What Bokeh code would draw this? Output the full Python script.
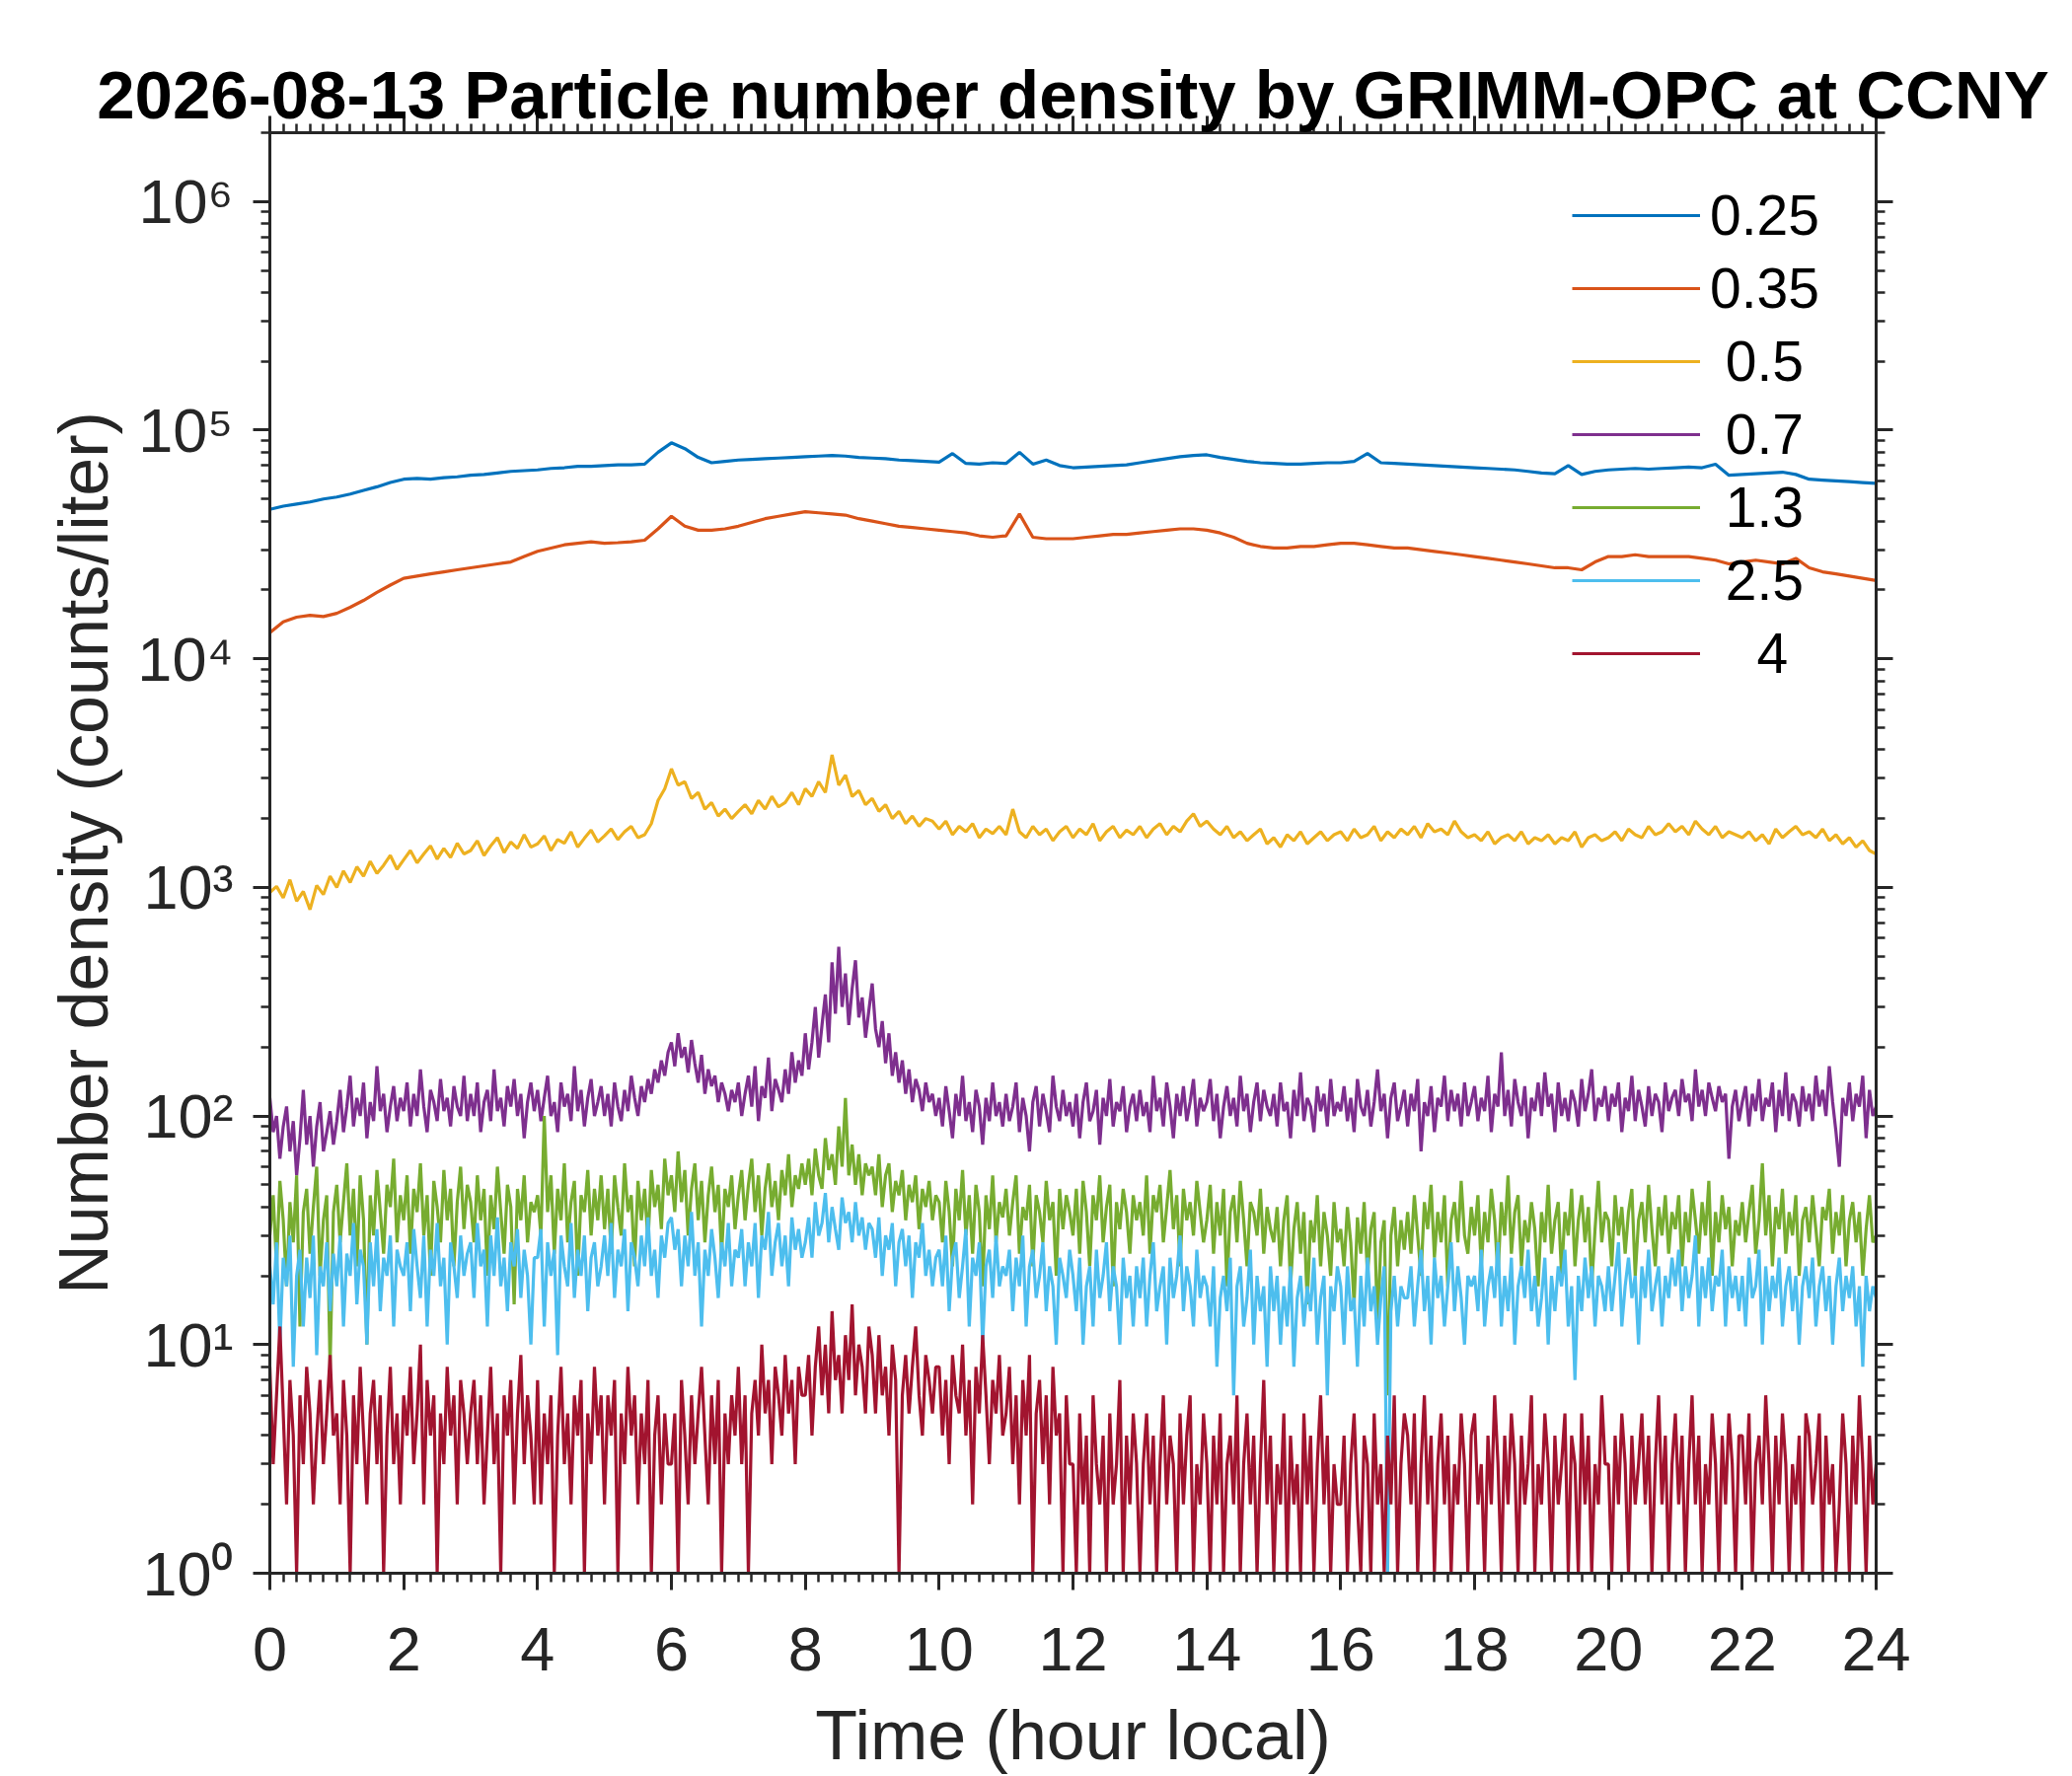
from bokeh.plotting import figure
from bokeh.models import (Range1d, FixedTicker, LinearAxis, LogAxis, Legend, LegendItem,
                          CustomJSTickFormatter)
from bokeh.embed import file_html
from bokeh.resources import INLINE

# ---------------- data ----------------
title_text = "2026-08-13 Particle number density by GRIMM-OPC at CCNY"
x_label = "Time (hour local)"
y_label = "Number density (counts/liter)"

sizes = ["0.25", "0.35", "0.5", "0.7", "1.3", "2.5", "4"]
legend_labels = ["0.25", "0.35", "\u00a00.5", "\u00a00.7", "\u00a01.3", "\u00a02.5", "\u00a0\u00a0\u00a04"]
colors = ["#0072BD", "#D95319", "#EDB120", "#7E2F8E", "#77AC30", "#4DBEEE", "#A2142F"]

x_tick_values = [0, 2, 4, 6, 8, 10, 12, 14, 16, 18, 20, 22, 24]
x_minor_ticks = [i / 5 for i in range(121)]
y_tick_values = [1, 10, 100, 1000, 10000, 100000, 1000000]
y_tick_labels = ["10\u2070", "10\u00b9", "10\u00b2", "10\u00b3", "10\u2074", "10\u2075", "10\u2076"]
y_minor_ticks = [m * 10 ** k for k in range(0, 7) for m in range(2, 10)]

# sampling times (hours)
hours_coarse = [i / 5 for i in range(121)]   # every 12 min
hours_fine = [i / 10 for i in range(241)]    # every 6 min
hours_dense = [i / 20 for i in range(481)]   # every 3 min

d025 = [
    45000, 46500, 47500, 48500, 50000,
    51000, 52500, 54500, 56500, 59000,
    61000, 61500, 61000, 62000, 62500,
    63500, 64000, 65000, 66000, 66500,
    67000, 68000, 68500, 69500, 69500,
    70000, 70500, 70500, 71000, 80000,
    88000, 83000, 76000, 72000, 73000,
    74000, 74500, 75000, 75500, 76000,
    76500, 77000, 77500, 77000, 76000,
    75500, 75000, 74000, 73500, 73000,
    72500, 79000, 71500, 71000, 72000,
    71500, 80000, 71000, 74000, 70000,
    68500, 69000, 69500, 70000, 70500,
    72000, 73500, 75000, 76500, 77500,
    78000, 76000, 74500, 73000, 72000,
    71500, 71000, 71000, 71500, 72000,
    72000, 73000, 79000, 72000, 71500,
    71000, 70500, 70000, 69500, 69000,
    68500, 68000, 67500, 67000, 66000,
    65000, 64500, 70000, 64000, 66000,
    67000, 67500, 68000, 67500, 68000,
    68500, 69000, 68500, 71000, 63500,
    64000, 64500, 65000, 65500, 64000,
    61000, 60500, 60000, 59500, 59000,
    58500]

d035 = [
    13000, 14500, 15200, 15500, 15300,
    15800, 16800, 18000, 19500, 21000,
    22500, 23000, 23500, 24000, 24500,
    25000, 25500, 26000, 26500, 28000,
    29500, 30500, 31500, 32000, 32500,
    32000, 32200, 32500, 33000, 37000,
    42000, 38000, 36500, 36500, 37000,
    38000, 39500, 41000, 42000, 43000,
    44000, 43500, 43000, 42500, 41000,
    40000, 39000, 38000, 37500, 37000,
    36500, 36000, 35500, 34500, 34000,
    34500, 43000, 34000, 33500, 33500,
    33500, 34000, 34500, 35000, 35000,
    35500, 36000, 36500, 37000, 37000,
    36500, 35500, 34000, 32000, 31000,
    30500, 30500, 31000, 31000, 31500,
    32000, 32000, 31500, 31000, 30500,
    30500, 30000, 29500, 29000, 28500,
    28000, 27500, 27000, 26500, 26000,
    25500, 25000, 25000, 24500, 26500,
    28000, 28000, 28500, 28000, 28000,
    28000, 28000, 27500, 27000, 26000,
    26500, 27000, 26500, 26000, 27500,
    25000, 24000, 23500, 23000, 22500,
    22000]

d05 = [
    950, 1010, 900, 1080, 870, 960, 800, 1020, 930, 1120,
    1000, 1180, 1050, 1230, 1120, 1300, 1150, 1250, 1380, 1200,
    1320, 1450, 1280, 1400, 1520, 1330, 1480, 1350, 1560, 1400,
    1450, 1600, 1380, 1520, 1650, 1420, 1580, 1480, 1700, 1500,
    1550, 1680, 1450, 1620, 1560, 1750, 1500, 1640, 1780, 1580,
    1680, 1800, 1620, 1750, 1850, 1650, 1700, 1900, 2400, 2700,
    3300, 2800, 2900, 2450, 2600, 2200, 2350, 2050, 2200, 2000,
    2150, 2300, 2100, 2400, 2200, 2500, 2250, 2350, 2600, 2300,
    2700, 2500, 2900, 2600, 3800, 2800, 3100, 2500, 2650, 2300,
    2450, 2150, 2300, 2000, 2150, 1900, 2050, 1850, 2000, 1950,
    1800, 1950, 1700, 1850, 1750, 1900, 1650, 1800, 1720, 1850,
    1700, 2200, 1750, 1650, 1850, 1700, 1800, 1600, 1750, 1850,
    1650, 1800, 1700, 1900, 1600, 1750, 1850, 1650, 1780, 1700,
    1850, 1650, 1800, 1900, 1700, 1850, 1750, 1950, 2100, 1850,
    1950, 1800, 1700, 1850, 1650, 1750, 1600, 1700, 1800, 1550,
    1650, 1500, 1700, 1600, 1750, 1550, 1650, 1750, 1600, 1700,
    1750, 1600, 1800, 1650, 1700, 1850, 1600, 1750, 1650, 1800,
    1700, 1850, 1650, 1900, 1750, 1800, 1700, 1950, 1750, 1650,
    1700, 1600, 1750, 1550, 1650, 1700, 1600, 1750, 1550, 1650,
    1600, 1700, 1550, 1650, 1600, 1750, 1500, 1650, 1700, 1600,
    1650, 1750, 1600, 1800, 1700, 1650, 1850, 1700, 1750, 1900,
    1750, 1850, 1700, 1950, 1800, 1700, 1850, 1650, 1750, 1700,
    1650, 1750, 1600, 1700, 1550, 1800, 1650, 1750, 1850, 1700,
    1750, 1650, 1800, 1600, 1700, 1550, 1650, 1500, 1600, 1450,
    1400]

d07 = [
    120, 85, 100, 65, 90, 110, 70, 95, 55, 80, 130, 75, 100, 60, 90, 115, 70, 85, 105, 75,
    95, 130, 85, 110, 150, 90, 120, 100, 140, 80, 115, 95, 165, 105, 125, 85, 110, 135, 95, 120,
    105, 140, 90, 125, 100, 160, 110, 85, 130, 115, 95, 145, 105, 120, 90, 135, 110, 100, 150, 95,
    125, 100, 140, 85, 115, 130, 95, 160, 105, 120, 90, 135, 110, 145, 100, 125, 80, 115, 140, 105,
    130, 95, 120, 150, 100, 115, 85, 140, 110, 125, 95, 165, 105, 130, 90, 120, 145, 100, 115, 135,
    100, 125, 90, 140, 110, 95, 130, 105, 150, 120, 100, 135, 115, 145, 125, 160, 140, 175, 150, 190,
    210, 165, 230, 180, 200, 155, 215, 170, 140, 185, 125, 160, 135, 150, 115, 140, 125, 105, 130, 115,
    140, 100, 125, 150, 110, 165, 95, 135, 120, 180, 105, 145, 130, 115, 160, 125, 190, 140, 175, 150,
    230, 160, 210, 300, 180, 250, 340, 210, 470, 280, 550, 300, 420, 250, 360, 480, 270, 330, 220, 290,
    380, 240, 200, 260, 170, 230, 150, 190, 140, 175, 125, 160, 115, 145, 130, 105, 140, 115, 125, 100,
    120, 90, 135, 105, 80, 125, 100, 150, 95, 115, 85, 130, 110, 75, 120, 95, 140, 100, 115, 90,
    125, 95, 110, 140, 85, 120, 100, 70, 115, 135, 90, 125, 105, 85, 150, 110, 95, 130, 100, 115,
    90, 125, 80, 115, 140, 95, 105, 130, 75, 120, 100, 145, 90, 115, 105, 135, 85, 110, 125, 95,
    130, 100, 115, 85, 150, 105, 120, 90, 140, 110, 80, 125, 100, 135, 95, 115, 145, 90, 120, 105,
    115, 145, 95, 125, 80, 110, 135, 100, 120, 90, 150, 105, 125, 85, 115, 140, 95, 130, 110, 100,
    125, 90, 140, 105, 115, 80, 130, 100, 155, 95, 120, 110, 85, 135, 105, 125, 90, 145, 100, 115,
    105, 135, 95, 120, 85, 145, 110, 100, 130, 90, 115, 160, 105, 125, 80, 120, 140, 95, 110, 130,
    90, 125, 105, 145, 70, 115, 100, 135, 85, 120, 110, 150, 95, 130, 105, 125, 90, 140, 100, 115,
    135, 95, 120, 105, 150, 85, 125, 110, 190, 100, 130, 90, 145, 115, 100, 135, 80, 120, 105, 140,
    100, 155, 110, 125, 85, 140, 100, 120, 95, 130, 115, 90, 145, 105, 125, 160, 95, 120, 110, 135,
    95, 125, 110, 140, 85, 120, 105, 150, 95, 130, 110, 90, 135, 100, 125, 115, 85, 140, 105, 120,
    130, 100, 145, 115, 125, 95, 160, 110, 130, 100, 140, 120, 105, 135, 115, 125, 65, 110, 130, 95,
    115, 135, 90, 125, 105, 145, 95, 120, 110, 140, 85, 130, 100, 155, 95, 125, 115, 90, 135, 105,
    125, 95, 150, 110, 130, 100, 165, 115, 85, 60, 120, 100, 140, 95, 125, 110, 150, 80, 130, 100,
    110]

d13 = [
    30, 45, 22, 52, 35, 18, 42, 28, 55, 12, 38, 48, 25, 40, 60, 20, 35, 45, 8, 38,
    50, 28, 42, 62, 30, 48, 22, 55, 35, 10, 45, 30, 58, 38, 25, 50, 40, 65, 28, 45,
    35, 55, 25, 48, 38, 62, 30, 45, 20, 52, 40, 28, 58, 35, 48, 22, 42, 60, 32, 50,
    42, 28, 55, 35, 48, 20, 45, 32, 60, 38, 25, 50, 40, 15, 48, 35, 55, 28, 42, 38,
    45, 30, 100, 38, 55, 25, 48, 35, 62, 28, 42, 52, 20, 45, 38, 58, 30, 48, 35, 55,
    32, 48, 25, 55, 40, 30, 62, 38, 45, 22, 52, 35, 48, 28, 58, 40, 50, 32, 65, 45,
    55, 38, 70, 42, 58, 30, 48, 62, 35, 52, 28, 45, 60, 38, 50, 25, 48, 40, 55, 32,
    45, 58, 35, 50, 65, 38, 55, 30, 48, 62, 40, 52, 35, 58, 45, 68, 40, 55, 48, 62,
    50, 65, 45, 72, 55, 48, 80, 58, 68, 50, 90, 60, 120, 55, 75, 50, 68, 45, 62, 55,
    60, 45, 68, 40, 55, 62, 38, 52, 45, 58, 35, 50, 42, 55, 32, 48, 40, 52, 35, 45,
    42, 28, 52, 38, 22, 48, 35, 58, 30, 45, 25, 50, 38, 18, 45, 32, 55, 28, 42, 36,
    48, 30, 42, 55, 25, 40, 35, 50, 22, 45, 38, 28, 52, 35, 42, 20, 48, 32, 45, 38,
    30, 48, 25, 52, 38, 22, 45, 35, 55, 28, 40, 50, 18, 42, 32, 48, 38, 25, 45, 35,
    42, 30, 55, 25, 45, 38, 50, 28, 40, 58, 32, 45, 22, 48, 35, 42, 30, 52, 38, 28,
    35, 50, 25, 42, 30, 48, 18, 38, 45, 28, 52, 35, 22, 42, 38, 30, 48, 25, 40, 32,
    28, 40, 22, 35, 45, 18, 32, 42, 25, 38, 15, 35, 28, 45, 22, 38, 30, 20, 42, 28,
    32, 22, 40, 28, 15, 36, 25, 42, 20, 32, 38, 12, 28, 35, 6, 30, 40, 22, 35, 26,
    38, 25, 45, 30, 20, 42, 32, 50, 24, 38, 28, 45, 18, 35, 42, 28, 52, 30, 25, 40,
    30, 45, 22, 38, 28, 48, 35, 20, 42, 30, 55, 25, 38, 45, 22, 35, 28, 42, 32, 18,
    38, 28, 50, 25, 35, 42, 20, 38, 30, 48, 22, 35, 45, 28, 40, 18, 32, 52, 28, 38,
    35, 22, 45, 30, 40, 25, 38, 48, 20, 35, 42, 28, 50, 32, 22, 40, 30, 45, 25, 38,
    32, 45, 22, 38, 28, 48, 35, 25, 42, 30, 52, 20, 38, 28, 45, 32, 40, 22, 35, 30,
    42, 28, 38, 50, 25, 35, 62, 30, 45, 22, 40, 32, 48, 25, 38, 30, 45, 20, 35, 40,
    28, 45, 32, 22, 40, 35, 48, 25, 38, 30, 45, 22, 35, 42, 28, 38, 20, 32, 45, 28,
    30]

d25 = [
    22, 15, 28, 10, 24, 18, 30, 8, 20, 26, 12, 24, 16, 30, 9, 22, 18, 28, 14, 25,
    18, 30, 12, 25, 20, 34, 15, 26, 22, 10, 28, 18, 32, 14, 24, 20, 30, 12, 26, 22,
    20, 28, 14, 32, 22, 16, 30, 12, 26, 20, 34, 18, 24, 10, 28, 22, 16, 30, 20, 25,
    28, 16, 34, 22, 26, 12, 30, 20, 36, 18, 24, 14, 28, 22, 32, 16, 26, 20, 10, 24,
    24, 32, 12, 28, 20, 26, 9, 30, 22, 18, 34, 16, 26, 20, 30, 14, 24, 28, 18, 22,
    30, 20, 34, 16, 26, 22, 32, 14, 28, 24, 18, 30, 22, 36, 20, 26, 16, 30, 24, 34,
    36, 26, 32, 18, 30, 22, 38, 20, 28, 12, 26, 20, 32, 24, 16, 28, 22, 34, 18, 26,
    24, 32, 18, 28, 22, 34, 16, 30, 26, 38, 20, 28, 34, 22, 30, 18, 36, 26, 32, 24,
    28, 36, 24, 42, 30, 34, 46, 28, 40, 32, 26, 44, 34, 38, 28, 42, 30, 36, 26, 34,
    32, 24, 36, 20, 30, 26, 34, 18, 28, 32, 22, 30, 16, 28, 24, 34, 20, 26, 18, 24,
    26, 18, 30, 14, 24, 28, 16, 22, 32, 12, 24, 20, 28, 10, 22, 26, 16, 30, 18, 22,
    20, 26, 14, 24, 18, 30, 12, 22, 26, 16, 20, 28, 14, 22, 18, 10, 24, 20, 16, 26,
    20, 14, 24, 10, 18, 22, 12, 26, 16, 20, 28, 14, 22, 18, 10, 24, 16, 20, 12, 22,
    16, 24, 12, 20, 28, 14, 18, 22, 10, 24, 16, 20, 30, 14, 22, 18, 12, 26, 16, 20,
    18, 12, 22, 8, 16, 20, 14, 24, 6, 18, 22, 12, 16, 26, 10, 20, 14, 18, 8, 22,
    14, 20, 10, 18, 12, 22, 8, 16, 20, 12, 18, 14, 24, 10, 16, 20, 6, 18, 14, 22,
    18, 10, 22, 14, 16, 8, 20, 12, 24, 14, 18, 10, 16, 22, 1, 14, 20, 12, 18, 16,
    16, 22, 12, 18, 26, 14, 20, 10, 24, 16, 20, 12, 18, 28, 14, 22, 16, 10, 20, 18,
    20, 14, 26, 12, 18, 22, 16, 28, 12, 20, 14, 24, 10, 18, 22, 16, 26, 14, 20, 12,
    16, 24, 10, 20, 14, 22, 18, 26, 12, 18, 7, 20, 14, 24, 16, 22, 12, 20, 18, 14,
    22, 14, 20, 28, 12, 18, 24, 16, 20, 10, 22, 16, 26, 14, 18, 22, 12, 20, 16, 24,
    18, 26, 14, 22, 16, 20, 30, 12, 22, 16, 24, 14, 20, 18, 26, 12, 22, 16, 20, 14,
    20, 12, 24, 16, 18, 26, 10, 22, 14, 20, 16, 24, 12, 18, 22, 14, 20, 10, 18, 22,
    16, 24, 12, 18, 22, 14, 20, 10, 18, 24, 14, 20, 16, 22, 12, 18, 8, 20, 14, 18,
    16]

d4 = [
    8, 3, 6, 12, 5, 2, 7, 4, 1, 6, 3, 8, 5, 2, 4, 7, 3, 5, 9, 4,
    5, 2, 7, 4, 1, 6, 3, 8, 4, 2, 5, 7, 3, 6, 1, 4, 8, 3, 5, 2,
    6, 4, 8, 3, 5, 10, 2, 7, 4, 6, 1, 5, 3, 8, 4, 6, 2, 7, 5, 3,
    5, 7, 3, 6, 2, 4, 8, 3, 5, 1, 6, 4, 7, 2, 5, 9, 3, 6, 4, 2,
    7, 2, 5, 3, 6, 1, 4, 8, 3, 5, 2, 6, 4, 7, 1, 5, 3, 8, 4, 6,
    2, 6, 4, 7, 1, 5, 3, 8, 4, 6, 2, 5, 3, 7, 1, 4, 6, 2, 5, 3,
    3, 5, 1, 7, 4, 2, 6, 3, 5, 8, 4, 2, 6, 3, 7, 1, 5, 3, 6, 4,
    8, 3, 6, 1, 5, 7, 4, 10, 5, 7, 3, 8, 6, 4, 9, 5, 7, 3, 8, 6,
    6, 9, 4, 8, 12, 6, 10, 5, 14, 7, 9, 5, 11, 7, 15, 6, 10, 8, 5, 12,
    9, 5, 11, 6, 8, 4, 10, 7, 1, 6, 9, 5, 8, 12, 6, 4, 9, 7, 5, 8,
    8, 4, 7, 3, 9, 6, 5, 10, 4, 7, 2, 8, 5, 11, 6, 3, 7, 5, 9, 4,
    5, 8, 3, 6, 2, 7, 4, 9, 1, 5, 7, 3, 6, 2, 8, 4, 5, 1, 6, 3,
    3, 1, 5, 2, 4, 1, 6, 3, 2, 4, 1, 5, 2, 3, 7, 1, 4, 2, 5, 3,
    1, 3, 5, 2, 4, 1, 3, 6, 2, 4, 3, 1, 5, 2, 4, 6, 1, 3, 2, 5,
    3, 1, 4, 2, 5, 1, 3, 4, 2, 6, 1, 3, 5, 2, 4, 1, 3, 7, 2, 4,
    1, 3, 2, 5, 1, 4, 2, 3, 1, 5, 2, 4, 1, 3, 6, 2, 4, 1, 3, 2,
    2, 4, 1, 3, 5, 2, 1, 4, 3, 1, 5, 2, 3, 1, 4, 2, 6, 1, 3, 5,
    4, 2, 5, 1, 3, 6, 2, 4, 1, 3, 5, 2, 4, 1, 3, 2, 5, 3, 1, 4,
    5, 2, 3, 1, 4, 2, 6, 3, 1, 4, 2, 5, 3, 1, 4, 2, 3, 6, 1, 3,
    2, 5, 3, 1, 4, 2, 3, 5, 1, 4, 3, 1, 5, 2, 4, 1, 3, 2, 6, 3,
    3, 1, 4, 2, 5, 3, 1, 4, 2, 3, 5, 2, 4, 1, 3, 6, 2, 4, 1, 3,
    5, 2, 4, 1, 3, 6, 2, 4, 1, 3, 2, 5, 3, 1, 4, 2, 5, 3, 1, 4,
    4, 2, 5, 1, 3, 4, 2, 6, 3, 1, 4, 2, 5, 3, 1, 3, 2, 4, 1, 5,
    4, 2, 3, 5, 1, 4, 2, 3, 1, 2, 5, 3, 1, 4, 2, 6, 3, 1, 4, 2,
    3]

series = [
    (hours_coarse, d025), (hours_coarse, d035), (hours_fine, d05), (hours_dense, d07),
    (hours_dense, d13), (hours_dense, d25), (hours_dense, d4),
]

# ---------------- figure ----------------
FONT = "Liberation Sans"
AX = "#262626"

p = figure(width=2100, height=1800, title=None,
           x_range=Range1d(0, 24), y_range=Range1d(1, 2e6),
           y_axis_type="log", output_backend="svg", toolbar_location=None,
           min_border_left=273, min_border_right=199,
           min_border_top=134, min_border_bottom=204)
p.background_fill_color = "white"
p.border_fill_color = "white"
p.outline_line_color = None
p.xgrid.visible = False
p.ygrid.visible = False

x_ticker = FixedTicker(ticks=x_tick_values, minor_ticks=x_minor_ticks)
y_ticker = FixedTicker(ticks=y_tick_values, minor_ticks=y_minor_ticks)
y_fmt = CustomJSTickFormatter(args=dict(lab_list=y_tick_labels, val_list=y_tick_values), code="""
    let best = 0;
    for (let i = 0; i < val_list.length; i++) {
        if (Math.abs(Math.log10(tick) - Math.log10(val_list[i])) <
            Math.abs(Math.log10(tick) - Math.log10(val_list[best]))) best = i;
    }
    return lab_list[best];
""")


def style(ax):
    ax.axis_line_color = AX
    ax.axis_line_width = 3
    ax.major_tick_line_color = AX
    ax.major_tick_line_width = 3
    ax.minor_tick_line_color = AX
    ax.minor_tick_line_width = 2.5
    ax.major_tick_in = 0
    ax.major_tick_out = 17
    ax.minor_tick_in = 0
    ax.minor_tick_out = 9
    ax.major_label_text_font = FONT
    ax.major_label_text_font_size = "63px"
    ax.major_label_text_color = AX
    ax.axis_label_text_font = FONT
    ax.axis_label_text_font_size = "70px"
    ax.axis_label_text_font_style = "normal"
    ax.axis_label_text_color = AX


xb = p.below[0]
yl = p.left[0]
style(xb)
style(yl)
xb.ticker = x_ticker
yl.ticker = y_ticker
yl.formatter = y_fmt
xb.axis_label = x_label
yl.axis_label = y_label
xb.major_label_standoff = 38
yl.major_label_standoff = 20
xb.axis_label_standoff = 24
yl.axis_label_standoff = 12

# top box axis carries the chart title as its (bold) label
xt = LinearAxis(ticker=x_ticker)
style(xt)
xt.major_label_text_font_size = "1px"
xt.major_label_text_color = None
xt.major_label_standoff = 0
xt.axis_label = title_text
xt.axis_label_text_font_style = "bold"
xt.axis_label_text_font_size = "69px"
xt.axis_label_text_color = "black"
xt.axis_label_standoff = -17
p.add_layout(xt, "above")

yr = LogAxis(ticker=y_ticker)
style(yr)
yr.major_label_text_font_size = "1px"
yr.major_label_text_color = None
yr.major_label_standoff = 0
yr.axis_label_standoff = 0
p.add_layout(yr, "right")

renderers = []
for (xs, ys), c in zip(series, colors):
    r = p.line(xs, ys, line_color=c, line_width=3.2)
    renderers.append(r)

items = [LegendItem(label=lab, renderers=[r]) for lab, r in zip(legend_labels, renderers)]
legend = Legend(items=items, location=(1320, 895))
legend.label_text_font = FONT
legend.label_text_font_size = "57px"
legend.label_text_color = "black"
legend.glyph_width = 130
legend.glyph_height = 74
legend.label_height = 74
legend.label_standoff = 10
legend.spacing = 0
legend.padding = 0
legend.margin = 0
legend.border_line_color = None
legend.background_fill_alpha = 0
p.add_layout(legend)

open("out.html", "w").write(file_html(p, INLINE))
